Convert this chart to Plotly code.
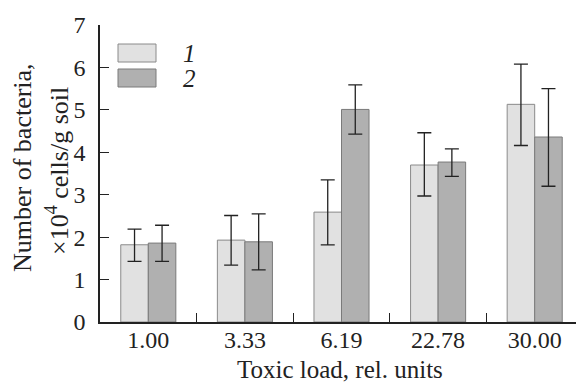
import plotly.graph_objects as go

categories = ["1.00", "3.33", "6.19", "22.78", "30.00"]
series1 = [1.82, 1.93, 2.59, 3.70, 5.13]
series1_err_plus = [0.37, 0.58, 0.76, 0.76, 0.95]
series1_err_minus = [0.39, 0.59, 0.77, 0.73, 0.97]
series2 = [1.86, 1.89, 5.01, 3.77, 4.36]
series2_err_plus = [0.42, 0.66, 0.58, 0.31, 1.14]
series2_err_minus = [0.43, 0.66, 0.58, 0.34, 1.16]
series_names = ["1", "2"]
yticks = [0, 1, 2, 3, 4, 5, 6, 7]

font = "Liberation Serif"
c1, c2 = "#e1e1e1", "#b0b0b0"

# page has an 8px body margin; figure sized to fit the window
OFF = 8
FW, FH = 576, 376
L, R, T, B = 92, 1, 17, 62
PW, PH = FW - L - R, FH - T - B


def px(page_x):
    return (page_x - OFF - L) / PW


def py(page_y):
    return 1 - (page_y - OFF - T) / PH


fig = go.Figure()
fig.add_trace(go.Bar(
    x=categories, y=series1, name=series_names[0],
    marker=dict(color=c1, line=dict(color="#8a8a8a", width=1)),
    error_y=dict(type="data", array=series1_err_plus, arrayminus=series1_err_minus,
                 color="#222", thickness=1.3, width=7),
))
fig.add_trace(go.Bar(
    x=categories, y=series2, name=series_names[1],
    marker=dict(color=c2, line=dict(color="#7a7a7a", width=1)),
    error_y=dict(type="data", array=series2_err_plus, arrayminus=series2_err_minus,
                 color="#222", thickness=1.3, width=7),
))

fig.update_layout(
    width=FW, height=FH,
    margin=dict(l=L, r=R, t=T, b=B, autoexpand=False),
    paper_bgcolor="white", plot_bgcolor="white",
    barmode="group", bargap=0.43, bargroupgap=0,
    showlegend=False,
    font=dict(family=font, size=24, color="#222"),
    xaxis=dict(
        type="category", tickson="boundaries", ticks="inside", ticklen=9,
        tickcolor="#222", tickwidth=1.3, automargin=False,
        showline=True, linecolor="#222", linewidth=1.5,
        showgrid=False, zeroline=False, ticklabelstandoff=-5,
        tickfont=dict(size=24),
    ),
    yaxis=dict(
        range=[0, 7], tickvals=yticks, ticks="inside", ticklen=9,
        tickcolor="#222", tickwidth=1.3, automargin=False,
        showline=True, linecolor="#222", linewidth=1.5,
        showgrid=False, zeroline=False, ticklabelstandoff=8,
        tickfont=dict(size=24),
    ),
)

# axis titles as annotations
fig.add_annotation(xref="paper", yref="paper", x=px(340), y=py(369),
                   text="Toxic load, rel. units", showarrow=False,
                   xanchor="center", yanchor="middle",
                   font=dict(family=font, size=25, color="#222"))
fig.add_annotation(xref="paper", yref="paper", x=px(23), y=py(168),
                   text="Number of bacteria,", textangle=-90, showarrow=False,
                   xanchor="center", yanchor="middle",
                   font=dict(family=font, size=26, color="#222"))
fig.add_annotation(xref="paper", yref="paper", x=px(57), y=py(171),
                   text="×10<sup>4</sup> cells/g soil", textangle=-90, showarrow=False,
                   xanchor="center", yanchor="middle",
                   font=dict(family=font, size=26, color="#222"))

# legend drawn manually (large boxes)
for i, (col, lc) in enumerate([(c1, "#8a8a8a"), (c2, "#7a7a7a")]):
    y0 = 44 + i * 25
    fig.add_shape(type="rect", xref="paper", yref="paper",
                  x0=px(118), x1=px(156), y0=py(y0 + 18), y1=py(y0),
                  fillcolor=col, line=dict(color=lc, width=1))
    fig.add_annotation(xref="paper", yref="paper", x=px(181), y=py(y0 + 9),
                       text="<i>%s</i>" % series_names[i], showarrow=False,
                       xanchor="left", yanchor="middle",
                       font=dict(family=font, size=25, color="#222"))

fig.write_html("out.html")
